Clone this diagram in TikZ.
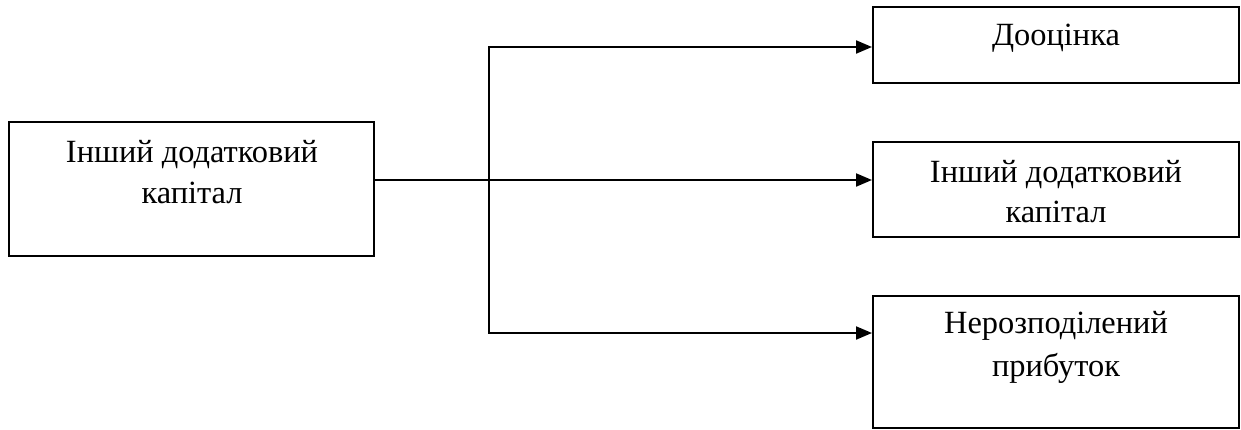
\documentclass[tikz,border=0pt]{standalone}
\usepackage{fontspec}
\setmainfont{Liberation Serif}
\usetikzlibrary{arrows.meta}
\begin{document}
\begin{tikzpicture}[x=0.5pt,y=-0.5pt,
  box/.style={draw,line width=1pt,inner sep=0pt,rectangle},
  lbl/.style={inner sep=0pt,anchor=base,font=\fontsize{16.2pt}{20.5pt}\selectfont},
  conn/.style={line width=1pt},
  tip/.tip={Triangle[length=8pt,width=6.5pt]},
  arr/.style={conn,-tip}]
\useasboundingbox (0,0) rectangle (1241,429);
% boxes
\node[box,minimum width=182.5pt,minimum height=67pt] (L) at (191.5,189) {};
\node[box,minimum width=183pt,minimum height=38pt] (T) at (1056,45) {};
\node[box,minimum width=183pt,minimum height=47.5pt] (M) at (1056,189.5) {};
\node[box,minimum width=183pt,minimum height=66pt] (B) at (1056,362) {};
% texts
\node[lbl] (L1) at (192,162) {Інший додатковий};
\node[lbl] (L2) at (192,203) {капітал};
\node[lbl] (T1) at (1056,45) {Дооцінка};
\node[lbl] (M1) at (1056,182) {Інший додатковий};
\node[lbl] (M2) at (1056,222) {капітал};
\node[lbl] (B1) at (1056,333) {Нерозподілений};
\node[lbl] (B2) at (1056,376) {прибуток};
% connectors
\coordinate (j1) at (489,47);
\coordinate (j2) at (489,180);
\coordinate (j3) at (489,333);
\draw[conn,tip-tip] (j1 -| T.west) -- (j1) -- (j3) -- (j3 -| B.west);
\draw[arr] (L.east |- j2) -- (j2 -| M.west);
\end{tikzpicture}
\end{document}
